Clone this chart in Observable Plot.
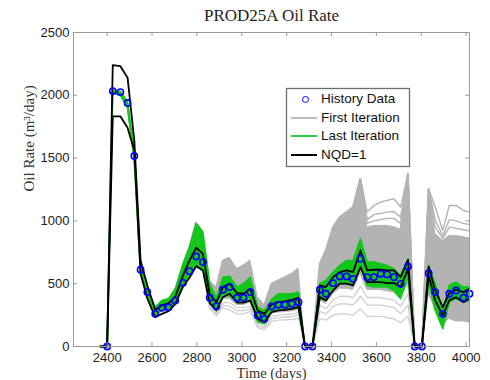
<!DOCTYPE html>
<html><head><meta charset="utf-8">
<script src="https://cdn.jsdelivr.net/npm/d3@7"></script>
<script src="https://cdn.jsdelivr.net/npm/@observablehq/plot@0.6"></script>
<style>
body{margin:0;background:#fff}
svg{display:block}
#wrap{position:relative;width:490px;height:380px}
#legend{position:absolute;left:286px;top:88px;width:122px;height:77px;
  font-family:'Liberation Sans',Arial,sans-serif;font-size:13.5px;color:#111;z-index:5}
.row{position:absolute;left:0;height:18px;line-height:18px;width:122px}
.row .lab{position:absolute;left:35px;top:0;white-space:nowrap}
.row .ln{position:absolute;left:5px;width:26px;top:8px;height:2px}
.row .dt{position:absolute;left:15.5px;top:5.5px;width:5px;height:5px;border:1.6px solid #0000ff;border-radius:50%}
</style>
</head><body><div id="wrap"><div id="chart"></div><div id="legend"></div></div>
<script>
// ---- data ----
const titleText = "PROD25A Oil Rate";
const xLabel = "Time (days)";
const yLabel = "Oil Rate (m³/day)";
const legendLabels = ["History Data", "First Iteration", "Last Iteration", "NQD=1"];
const xTicks = [2400, 2600, 2800, 3000, 3200, 3400, 3600, 3800, 4000];
const yTicks = [0, 500, 1000, 1500, 2000, 2500];

const days = [2370, 2400, 2425, 2459, 2491, 2521, 2549, 2579, 2614, 2644, 2674, 2704, 2738, 2767, 2797, 2827, 2857, 2887, 2916, 2946, 2979, 3008, 3038, 3071, 3101, 3133, 3163, 3193, 3223, 3253, 3282, 3315, 3348, 3375, 3407, 3437, 3467, 3496, 3529, 3559, 3589, 3619, 3648, 3678, 3708, 3741, 3771, 3803, 3833, 3862, 3896, 3925, 3955, 3988, 4015];
const history = [null, 0, 2034, 2026, 1939, 1517, 611, 433, 260, 308, 313, 366, 507, 600, 717, 672, 388, 321, 452, 473, 388, 388, 433, 247, 220, 319, 332, 332, 340, 353, 0, 0, 452, 420, 504, 558, 558, 539, 699, 552, 552, 579, 574, 552, 499, 637, 0, 0, 584, 433, 260, 420, 446, 388, 420];
// NQD=1 (two black curves)
const nqdHigh = [0, 0, 2240, 2232, 2140, 1640, 685, 486, 292, 327, 345, 398, 566, 685, 786, 738, 414, 353, 473, 500, 425, 420, 460, 287, 260, 335, 353, 359, 372, 388, 0, 0, 486, 473, 552, 592, 606, 592, 765, 606, 611, 611, 606, 606, 552, 690, 0, 0, 637, 446, 313, 425, 452, 433, 460];
const nqdLow = [0, 0, 1833, 1833, 1742, 1560, 580, 382, 234, 260, 281, 340, 478, 547, 640, 606, 345, 287, 393, 420, 350, 350, 367, 220, 194, 274, 287, 292, 300, 313, 0, 0, 393, 367, 446, 500, 500, 486, 632, 513, 513, 513, 505, 505, 473, 619, 0, 0, 566, 367, 247, 367, 393, 353, 380];
// Last iteration ensemble envelope
const lastHigh = [0, 0, 2040, 2030, 1950, 1560, 650, 473, 311, 367, 380, 460, 659, 791, 977, 911, 500, 388, 552, 560, 473, 500, 552, 313, 287, 372, 420, 420, 420, 433, 0, 0, 500, 526, 592, 645, 685, 685, 858, 672, 672, 659, 645, 619, 566, 700, 0, 0, 645, 500, 287, 486, 513, 473, 473];
const lastLow = [0, 0, 2015, 2000, 1900, 1480, 590, 420, 245, 290, 300, 350, 470, 560, 650, 620, 360, 300, 420, 400, 353, 353, 393, 194, 181, 274, 300, 300, 300, 313, 0, 0, 380, 367, 459, 500, 500, 500, 645, 486, 473, 473, 473, 446, 380, 560, 0, 0, 513, 287, 141, 353, 380, 353, 367];
// First iteration ensemble: dense envelope
const firstHigh = [0, 0, 2035, 2025, 1940, 1540, 640, 465, 300, 350, 370, 440, 640, 790, 990, 920, 526, 470, 685, 706, 619, 645, 685, 393, 330, 500, 526, 552, 579, 619, 0, 0, 659, 765, 951, 1030, 1070, 1110, 1336, 950, 960, 960, 960, 950, 930, 1376, 0, 0, 1256, 900, 840, 880, 880, 870, 860];
const firstLow = [0, 0, 2020, 2005, 1905, 1490, 595, 425, 250, 280, 290, 345, 480, 560, 650, 620, 340, 290, 380, 380, 330, 330, 350, 200, 180, 260, 270, 275, 280, 290, 0, 0, 370, 340, 420, 460, 460, 450, 580, 450, 450, 450, 440, 430, 380, 500, 0, 0, 420, 300, 170, 220, 200, 200, 190];
// First iteration: separate members below the dense band
const lowDays = [2827, 2857, 2887, 2916, 2946, 2979, 3008, 3038, 3071, 3101, 3133, 3163, 3193, 3223, 3253, 3282, 3315, 3348, 3375, 3407, 3437, 3467, 3496, 3529, 3559, 3589, 3619, 3648, 3678, 3708, 3741, 3771];
const firstLow1 = [610, 330, 275, 350, 350, 310, 310, 320, 185, 165, 240, 250, 255, 260, 270, 0, 0, 330, 300, 370, 400, 400, 390, 480, 390, 390, 390, 380, 370, 320, 420, 0];
const firstLow2 = [600, 315, 260, 330, 320, 285, 285, 300, 165, 150, 220, 230, 235, 240, 250, 0, 0, 280, 260, 320, 340, 340, 330, 400, 330, 330, 330, 320, 310, 260, 330, 0];
const firstLow3 = [590, 300, 245, 310, 290, 260, 260, 280, 150, 135, 200, 210, 212, 215, 225, 0, 0, 220, 210, 250, 260, 260, 250, 300, 240, 240, 240, 230, 220, 190, 240, 0];
// First iteration: separate members above the dense band
const upDays = [3496, 3529, 3559, 3589, 3619, 3648, 3678, 3708, 3741, 3771, 3803, 3833, 3862, 3896, 3925, 3955, 3988, 4015];
const firstUp1 = [1110, 1336, 1070, 1123, 1150, 1163, 1176, 1110, 1376, 0, 0, 1256, 1110, 924, 1123, 1123, 1083, 1070];
const firstUp2 = [1090, 1336, 1010, 1050, 1060, 1070, 1075, 1030, 1376, 0, 0, 1256, 1010, 880, 1010, 1000, 980, 970];
const firstUp3 = [1070, 1336, 980, 1000, 1010, 1020, 1020, 980, 1376, 0, 0, 1256, 950, 860, 950, 940, 930, 920];

// ---- build tables ----
const sim = days.map((d, i) => ({day: d, hist: history[i], nH: nqdHigh[i], nL: nqdLow[i], lH: lastHigh[i], lL: lastLow[i], fH: firstHigh[i], fL: firstLow[i]}));
const lows = [firstLow1, firstLow2, firstLow3].flatMap((arr, k) => lowDays.map((d, i) => ({day: d, v: arr[i], m: k})));
const ups = [firstUp1, firstUp2, firstUp3].flatMap((arr, k) => upDays.map((d, i) => ({day: d, v: arr[i], m: k})));

const W = 490, H = 380, mL = 73, mR = 21, mT = 32, mB = 34;
const pw = W - mL - mR, ph = H - mT - mB;
const sans = "'Liberation Sans', Arial, sans-serif";
const serif = "'Liberation Serif', 'Times New Roman', serif";
const gray = "#b3b3b3", lightGray = "#cfcfcf", green = "#13c61b", axisGray = "#9a9a9a";
// legend box, in pixels from the plot frame edges
const lgBox = {left: 286 - mL, top: 88 - mT, right: mL + pw - 409, bottom: mT + ph - 166};

const plot = Plot.plot({
  width: W, height: H, marginLeft: mL, marginRight: mR, marginTop: mT, marginBottom: mB,
  x: {domain: [2250, 4015]},
  y: {domain: [0, 2500]},
  style: {fontFamily: sans, fontSize: "13px", color: "#222", background: "#fff"},
  marks: [
    Plot.line(lows, {x: "day", y: "v", z: "m", stroke: lightGray, strokeWidth: 1.3}),
    Plot.areaY(sim, {x: "day", y1: "fL", y2: "fH", fill: gray, stroke: gray, strokeWidth: 1}),
    Plot.line(ups, {x: "day", y: "v", z: "m", stroke: gray, strokeWidth: 1.4}),
    Plot.areaY(sim, {x: "day", y1: "lL", y2: "lH", fill: green}),
    Plot.line(sim, {x: "day", y: "lH", stroke: green, strokeWidth: 1.5}),
    Plot.line(sim, {x: "day", y: "lL", stroke: green, strokeWidth: 1.5}),
    Plot.line(sim, {x: "day", y: "nH", stroke: "#000", strokeWidth: 1.8}),
    Plot.line(sim, {x: "day", y: "nL", stroke: "#000", strokeWidth: 1.8}),
    Plot.dot(sim, {x: "day", y: "hist", r: 3.1, stroke: "#0000ff", strokeWidth: 1.6, fill: "none"}),
    Plot.frame({stroke: axisGray}),
    Plot.ruleX(xTicks, {insetTop: ph - 4, stroke: axisGray}),
    Plot.ruleX(xTicks, {insetBottom: ph - 4, stroke: axisGray}),
    Plot.ruleY(yTicks, {insetRight: pw - 4, stroke: axisGray}),
    Plot.ruleY(yTicks, {insetLeft: pw - 4, stroke: axisGray}),
    Plot.axisX({ticks: xTicks, tickSize: 0, tickPadding: 6.5, tickFormat: d => String(d), label: null}),
    Plot.axisY({ticks: yTicks, tickSize: 0, tickPadding: 4, tickFormat: d => String(d), label: null}),
    Plot.text([titleText], {text: d => d, frameAnchor: "top", dy: -11.3, lineAnchor: "bottom", fontFamily: serif, fontSize: 17, fill: "#222"}),
    Plot.text([xLabel], {text: d => d, frameAnchor: "bottom", dy: 31, lineAnchor: "bottom", fontFamily: serif, fontSize: 14.5, fill: "#333"}),
    Plot.text([yLabel], {text: d => d, frameAnchor: "left", dx: -40, dy: 2, rotate: -90, lineAnchor: "bottom", fontFamily: serif, fontSize: 15, fill: "#333"}),
    Plot.frame({insetLeft: lgBox.left, insetTop: lgBox.top, insetRight: lgBox.right, insetBottom: lgBox.bottom, fill: "#fff", stroke: "#6e6e6e", strokeWidth: 1.3})
  ]
});
document.getElementById("chart").appendChild(plot);

// ---- legend entries (HTML overlay on the legend box) ----
const legendStyles = [
  {kind: "dot"},
  {kind: "line", color: "#bdbdbd"},
  {kind: "line", color: "#2bd44a"},
  {kind: "line", color: "#000000"}
];
const legend = d3.select("#legend");
legendLabels.forEach((lab, i) => {
  const row = legend.append("div").attr("class", "row").style("top", (2 + i * 18.7) + "px");
  const s = legendStyles[i];
  if (s.kind === "dot") row.append("span").attr("class", "dt");
  else row.append("span").attr("class", "ln").style("background", s.color);
  row.append("span").attr("class", "lab").text(lab);
});
</script>
</body></html>
